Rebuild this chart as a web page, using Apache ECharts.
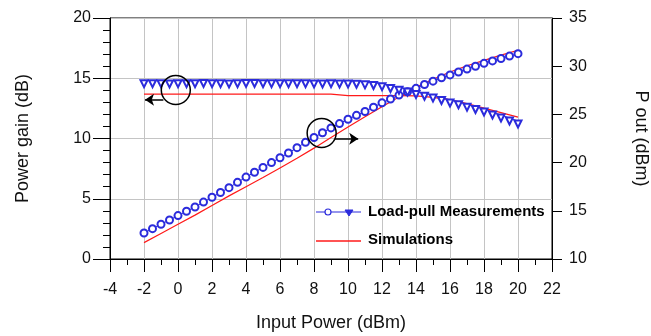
<!DOCTYPE html>
<html>
<head>
<meta charset="utf-8">
<script src="https://cdn.jsdelivr.net/npm/echarts@6/dist/echarts.min.js"></script>
<style>
  html, body { margin: 0; padding: 0; background: #fff; }
  #chart { width: 651px; height: 336px; }
</style>
</head>
<body>
<div id="chart"></div>
<script>
// measured points (load-pull), 0.5 dB steps
const measPin = [-2, -1.5, -1, -0.5, 0, 0.5, 1, 1.5, 2, 2.5, 3, 3.5, 4, 4.5, 5, 5.5, 6, 6.5, 7, 7.5,
  8, 8.5, 9, 9.5, 10, 10.5, 11, 11.5, 12, 12.5, 13, 13.5, 14, 14.5, 15, 15.5, 16, 16.5, 17, 17.5,
  18, 18.5, 19, 19.5, 20]
const measPout = [12.7, 13.15, 13.6, 14.05, 14.5, 14.95, 15.4, 15.9, 16.4, 16.9, 17.4, 17.95, 18.5, 19.0,
  19.5, 20.0, 20.5, 21.0, 21.55, 22.1, 22.6, 23.1, 23.6, 24.05, 24.5, 24.9, 25.3, 25.75, 26.2, 26.6,
  27.0, 27.35, 27.7, 28.1, 28.45, 28.8, 29.1, 29.4, 29.7, 30.0, 30.3, 30.55, 30.8, 31.05, 31.3]
const measGain = [14.8, 14.8, 14.8, 14.78, 14.8, 14.8, 14.8, 14.82, 14.8, 14.8, 14.78, 14.8, 14.82, 14.82,
  14.8, 14.8, 14.8, 14.8, 14.8, 14.8, 14.78, 14.78, 14.8, 14.78, 14.78, 14.75, 14.7, 14.65, 14.55, 14.4,
  14.25, 14.1, 13.9, 13.75, 13.6, 13.4, 13.2, 13.05, 12.85, 12.65, 12.45, 12.2, 11.95, 11.7, 11.45]

// simulation, 1 dB steps
const simPin = [-2, -1, 0, 1, 2, 3, 4, 5, 6, 7, 8, 9, 10, 11, 12, 13, 14, 15, 16, 17, 18, 19, 20]
const simPout = [11.7, 12.65, 13.6, 14.55, 15.55, 16.55, 17.5, 18.45, 19.45, 20.45, 21.5, 22.6, 23.7,
  24.75, 25.8, 26.8, 27.8, 28.65, 29.4, 30.05, 30.6, 31.15, 31.65]
const simGain = [13.68, 13.68, 13.68, 13.68, 13.68, 13.68, 13.68, 13.68, 13.68, 13.68, 13.68, 13.68,
  13.56, 13.56, 13.55, 13.55, 13.53, 13.42, 13.22, 12.9, 12.52, 12.15, 11.78]

// annotation circles / arrows (gain axis coords)
const gainMark = [-0.13, 14.03]
const gainArrow = [[-0.86, 13.22], [-1.94, 13.22]]
const poutMark = [8.45, 10.45]
const poutArrow = [[9.24, 9.98], [10.6, 9.98]]

const BLUE = '#2b2bdc'
const RED = '#ff1a1a'
const FONT = '"Liberation Sans", Arial, sans-serif'

const zip = (xs, ys) => xs.map((x, i) => [x, ys[i]])
const markLine = (pts) => [[{ coord: pts[0] }, { coord: pts[1] }]]

var myChart = echarts.init(document.getElementById('chart'))

var option = {
    animation: false,
    grid: {
        left: 110, right: 99, top: 18, bottom: 77,
        outerBoundsMode: 'none', containLabel: false,
        show: true, borderColor: '#000', borderWidth: 1
    },
    xAxis: {
        type: 'value', min: -4, max: 22, interval: 2,
        name: 'Input Power (dBm)', nameLocation: 'middle', nameGap: 55,
        nameTextStyle: { fontFamily: FONT, fontSize: 18, color: '#111' },
        axisLine: { onZero: false, lineStyle: { color: '#000' } },
        axisTick: { length: 13, lineStyle: { color: '#000' } },
        minorTick: { show: true, splitNumber: 2, length: 6, lineStyle: { color: '#000' } },
        axisLabel: { margin: 23, fontFamily: FONT, fontSize: 16, color: '#111' },
        splitLine: { show: true, lineStyle: { color: '#c4c4c4' } }
    },
    yAxis: [
        {
            type: 'value', min: 0, max: 20, interval: 5, position: 'left',
            name: 'Power gain (dB)', nameLocation: 'middle', nameGap: 78,
            nameTextStyle: { fontFamily: FONT, fontSize: 18, color: '#111' },
            axisLine: { show: true, onZero: false, lineStyle: { color: '#000' } },
            axisTick: { show: true, length: 17, lineStyle: { color: '#000' } },
            minorTick: { show: true, splitNumber: 5, length: 7, lineStyle: { color: '#000' } },
            axisLabel: { margin: 19, fontFamily: FONT, fontSize: 16, color: '#111' },
            splitLine: { show: true, lineStyle: { color: '#c4c4c4' } }
        },
        {
            type: 'value', min: 10, max: 35, interval: 5, position: 'right',
            name: 'P out (dBm)', nameLocation: 'middle', nameGap: 80, nameRotate: -90,
            nameTextStyle: { fontFamily: FONT, fontSize: 18, color: '#111' },
            axisLine: { show: true, onZero: false, lineStyle: { color: '#000' } },
            axisTick: { show: true, length: 10, lineStyle: { color: '#000' } },
            axisLabel: { margin: 17, fontFamily: FONT, fontSize: 16, color: '#111' },
            splitLine: { show: false }
        }
    ],
    series: [
        {
            name: 'Simulations', type: 'line', yAxisIndex: 1,
            data: zip(simPin, simPout), showSymbol: false,
            lineStyle: { color: RED, width: 1.2 }, z: 2
        },
        {
            name: 'Simulations', type: 'line', yAxisIndex: 0,
            data: zip(simPin, simGain), showSymbol: false,
            lineStyle: { color: RED, width: 1.2 }, z: 2
        },
        {
            name: 'Load-pull Measurements', type: 'line', yAxisIndex: 1,
            data: zip(measPin, measPout),
            symbol: 'emptyCircle', symbolSize: 7,
            itemStyle: { color: BLUE, borderWidth: 1 },
            lineStyle: { color: BLUE, width: 1 }, z: 3
        },
        {
            name: 'Load-pull Measurements', type: 'line', yAxisIndex: 0,
            data: zip(measPin, measGain),
            symbol: 'emptyTriangle', symbolRotate: 180, symbolSize: 7, symbolOffset: [0, 3],
            itemStyle: { color: BLUE, borderWidth: 1 },
            lineStyle: { color: BLUE, width: 1 }, z: 3,
            markPoint: {
                symbol: 'circle', symbolSize: 29, silent: true,
                itemStyle: { color: 'rgba(0,0,0,0)', borderColor: '#000', borderWidth: 1.5 },
                label: { show: false },
                data: [{ coord: gainMark }, { coord: poutMark }]
            },
            markLine: {
                silent: true, symbol: ['none', 'arrow'], symbolSize: 9,
                label: { show: false },
                lineStyle: { color: '#000', width: 1.5, type: 'solid' },
                data: markLine(gainArrow).concat(markLine(poutArrow))
            }
        }
    ],
    // legend drawn by hand: one entry shows both circle and triangle
    graphic: [
        { type: 'line', shape: { x1: 316, y1: 212, x2: 361, y2: 212 }, style: { stroke: BLUE, lineWidth: 1.2 }, z: 10 },
        { type: 'circle', shape: { cx: 328, cy: 212, r: 3 }, style: { stroke: BLUE, fill: '#fff', lineWidth: 1.2 }, z: 11 },
        { type: 'polygon', shape: { points: [[345, 210], [353, 210], [349, 216]] }, style: { stroke: BLUE, fill: BLUE, lineWidth: 1 }, z: 11 },
        { type: 'text', x: 368, y: 212, style: { text: 'Load-pull Measurements', font: 'bold 15px ' + FONT, fill: '#000', verticalAlign: 'middle' }, z: 11 },
        { type: 'line', shape: { x1: 316, y1: 241, x2: 361, y2: 241 }, style: { stroke: RED, lineWidth: 1.5 }, z: 10 },
        { type: 'text', x: 368, y: 240, style: { text: 'Simulations', font: 'bold 15px ' + FONT, fill: '#000', verticalAlign: 'middle' }, z: 11 }
    ]
}

myChart.setOption(option)
</script>
</body>
</html>
